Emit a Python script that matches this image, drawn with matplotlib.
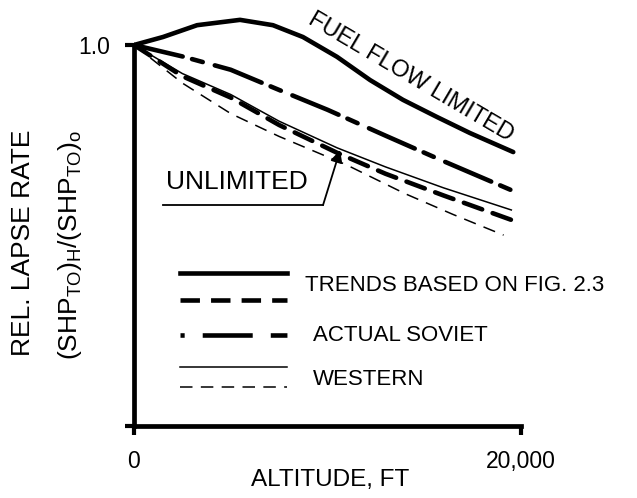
import matplotlib
matplotlib.use("Agg")
import matplotlib.pyplot as plt

plt.rcParams['font.family'] = ['Liberation Sans', 'DejaVu Sans']
plt.rcParams['mathtext.fontset'] = 'custom'
plt.rcParams['mathtext.rm'] = 'Liberation Sans'
plt.rcParams['mathtext.it'] = 'Liberation Sans'
plt.rcParams['lines.scale_dashes'] = False

# altitude in ft, relative lapse rate
fuel_alt = [0, 1500, 3260, 5480, 7180, 8730, 10490, 12200, 13900, 15660, 17360, 19600]
fuel_rate = [1.0, 1.021, 1.052, 1.066, 1.052, 1.021, 0.969, 0.908, 0.856, 0.811, 0.769, 0.719]

soviet_alt = [0, 2500, 5000, 7500, 10000, 13000, 16000, 19500]
soviet_rate = [1.0, 0.970, 0.935, 0.882, 0.830, 0.762, 0.695, 0.619]

trend_unl_alt = [0, 2500, 5000, 7500, 10500, 13000, 16000, 19500]
trend_unl_rate = [1.0, 0.918, 0.862, 0.790, 0.717, 0.662, 0.605, 0.541]

west_solid_alt = [0, 2500, 5000, 7500, 10500, 13000, 16000, 19500]
west_solid_rate = [1.0, 0.925, 0.870, 0.800, 0.730, 0.680, 0.625, 0.567]

west_dash_alt = [0, 2500, 5000, 7500, 11000, 14000, 16500, 19100]
west_dash_rate = [1.0, 0.900, 0.820, 0.760, 0.685, 0.610, 0.555, 0.501]

x_ticks = [0, 20000]
x_ticklabels = ['0', '20,000']
y_ticks = [0, 1.0]
y_ticklabels = ['', '1.0']

fig = plt.figure(figsize=(6.37, 4.98), dpi=100)
ax = fig.add_axes([134 / 637, 1 - 426 / 498, 387 / 637, 419.1 / 498])
ax.set_xlim(0, 20000)
ax.set_ylim(0, 1.1)

thick = 3.3
thin = 1.1
ax.plot(fuel_alt, fuel_rate, color='black', lw=thick, solid_capstyle='round',
        solid_joinstyle='round')
ax.plot(soviet_alt, soviet_rate, color='black', lw=thick, dashes=(36, 7, 8, 9),
        dash_capstyle='round')
ax.plot(trend_unl_alt, trend_unl_rate, color='black', lw=thick, dashes=(14, 8),
        dash_capstyle='round')
ax.plot(west_solid_alt, west_solid_rate, color='black', lw=thin)
ax.plot(west_dash_alt, west_dash_rate, color='black', lw=thin, dashes=(9, 6))

# spines
for s in ['top', 'right']:
    ax.spines[s].set_visible(False)
ax.spines['left'].set_bounds(0, 1.0)
ax.spines['left'].set_linewidth(3.4)
ax.spines['bottom'].set_linewidth(3.4)
ax.set_xticks(x_ticks)
ax.set_xticklabels(x_ticklabels)
ax.set_yticks(y_ticks)
ax.set_yticklabels(y_ticklabels)
ax.tick_params(direction='out', length=6.5, width=3, labelsize=16.5, pad=11)

fig.text(330 / 637, 1 - 480 / 498, 'ALTITUDE, FT', ha='center', va='center', fontsize=17.5)
fig.text(23 / 637, 1 - 243 / 498, 'REL. LAPSE RATE', rotation=90,
         ha='center', va='center', fontsize=19)
fig.text(70 / 637, 1 - 245 / 498,
         r'(SHP$_{\mathrm{TO}}$)$_{\mathrm{H}}$/(SHP$_{\mathrm{TO}}$)$_{\mathrm{o}}$',
         rotation=90, ha='center', va='center', fontsize=19)

# curve labels
ax.text(14300, 0.916, 'FUEL FLOW LIMITED', rotation=-30.5, rotation_mode='anchor',
        ha='center', va='center', fontsize=17)
ax.text(5300, 0.640, 'UNLIMITED', ha='center', va='center', fontsize=19)
ax.plot([1500, 9770], [0.58, 0.58], color='black', lw=1.3)
ax.annotate('', xy=(10650, 0.724), xytext=(9770, 0.58),
            arrowprops=dict(arrowstyle='-|>', color='black', lw=1.3,
                            mutation_scale=18, shrinkA=0, shrinkB=0))

# hand-drawn key
tr = ax.transAxes
lx = [0.119, 0.395]
ax.plot(lx, [0.365, 0.365], transform=tr, color='black', lw=thick)
ax.plot(lx, [0.301, 0.301], transform=tr, color='black', lw=thick, dashes=(14, 8))
ax.plot(lx, [0.217, 0.217], transform=tr, color='black', lw=thick, dashes=(3, 13, 36, 13, 12, 40))
ax.plot(lx, [0.141, 0.141], transform=tr, color='black', lw=thin)
ax.plot(lx, [0.093, 0.093], transform=tr, color='black', lw=thin, dashes=(9, 6))
ax.text(0.442, 0.335, 'TRENDS BASED ON FIG. 2.3', transform=tr, ha='left',
        va='center', fontsize=16)
ax.text(0.463, 0.217, 'ACTUAL SOVIET', transform=tr, ha='left', va='center', fontsize=16)
ax.text(0.463, 0.110, 'WESTERN', transform=tr, ha='left', va='center', fontsize=16)

fig.savefig('out.png', dpi=100)
